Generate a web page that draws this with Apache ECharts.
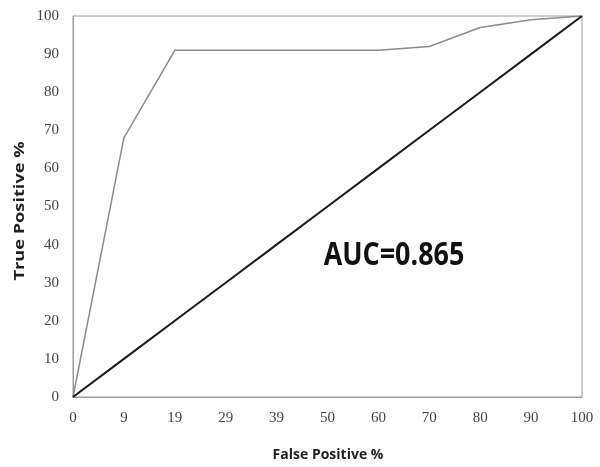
<!DOCTYPE html>
<html>
<head>
<meta charset="utf-8">
<script src="https://cdn.jsdelivr.net/npm/echarts@6/dist/echarts.min.js"></script>
<style>
html, body { margin: 0; padding: 0; background: #fff; }
#chart { width: 600px; height: 467px; }
</style>
</head>
<body>
<div id="chart"></div>
<script>
// false positive % tick labels (evenly spaced in the original)
var fpLabels = ['0', '9', '19', '29', '39', '50', '60', '70', '80', '90', '100'];
// true positive % of the ROC curve at each tick
var rocValues = [0, 68, 91, 91, 91, 91, 91, 92, 97, 99, 100];
// chance line
var chanceValues = [0, 10, 20, 30, 40, 50, 60, 70, 80, 90, 100];
var aucText = 'AUC=0.865';
var xTitle = 'False Positive %';
var yTitle = 'True Positive %';

var chart = echarts.init(document.getElementById('chart'));

var labelStyle = {
    fontFamily: 'Liberation Serif',
    fontSize: 15,
    color: '#444',
    margin: 14
};

var option = {
    animation: false,
    backgroundColor: '#fff',
    grid: {
        left: 73,
        right: 18,
        top: 16,
        bottom: 70,
        show: true,
        borderColor: '#9a9a9a',
        borderWidth: 1
    },
    xAxis: {
        type: 'category',
        data: fpLabels,
        boundaryGap: false,
        axisLine: { lineStyle: { color: '#9a9a9a', width: 1 } },
        axisTick: { show: false },
        axisLabel: labelStyle,
        splitLine: { show: false }
    },
    yAxis: {
        type: 'value',
        min: 0,
        max: 100,
        interval: 10,
        axisLine: { show: true, lineStyle: { color: '#9a9a9a', width: 1 } },
        axisTick: { show: false },
        axisLabel: labelStyle,
        splitLine: { show: false }
    },
    series: [
        {
            name: 'ROC',
            type: 'line',
            data: rocValues,
            symbol: 'none',
            lineStyle: { color: '#8c8c8c', width: 1.5 },
            z: 3
        },
        {
            name: 'Chance',
            type: 'line',
            data: chanceValues,
            symbol: 'none',
            lineStyle: { color: '#1a1a1a', width: 2 },
            z: 4
        }
    ],
    graphic: [
        {
            type: 'text',
            x: 394,
            y: 256,
            scaleX: 0.84,
            style: {
                text: aucText,
                font: 'bold 32px "Open Sans"',
                fill: '#111',
                textAlign: 'center',
                textVerticalAlign: 'middle'
            }
        },
        {
            type: 'text',
            x: 328,
            y: 455,
            style: {
                text: xTitle,
                font: 'bold 14px "Open Sans"',
                fill: '#222',
                textAlign: 'center',
                textVerticalAlign: 'middle'
            }
        },
        {
            type: 'text',
            x: 20,
            y: 211,
            rotation: Math.PI / 2,
            scaleX: 1.3,
            style: {
                text: yTitle,
                font: 'bold 14px "Open Sans"',
                fill: '#222',
                textAlign: 'center',
                textVerticalAlign: 'middle'
            }
        }
    ]
};

chart.setOption(option);
</script>
</body>
</html>
